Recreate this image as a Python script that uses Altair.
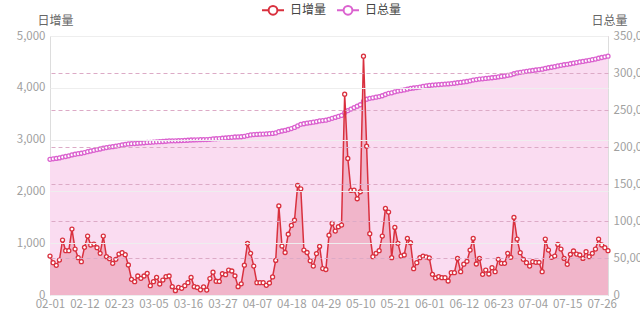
import altair as alt
import pandas as pd

# ---- data ----
daily = [752, 624, 572, 675, 1061, 855, 855, 1273, 887, 720,
         643, 920, 1138, 965, 984, 913, 804, 1138, 740, 701,
         611, 688, 791, 817, 778, 579, 302, 257, 367, 321,
         367, 418, 180, 257, 341, 212, 289, 354, 367, 161,
         84, 148, 129, 180, 238, 340, 161, 145, 100, 155,
         96, 318, 440, 265, 262, 410, 392, 482, 463, 370,
         161, 215, 575, 997, 804, 559, 238, 238, 238, 187,
         232, 348, 668, 1720, 945, 820, 1173, 1343, 1443, 2118,
         2050, 868, 820, 660, 559, 798, 938, 511, 492, 1154,
         1382, 1235, 1318, 1350, 3877, 2636, 2019, 2025, 1858, 1993,
         4610, 2874, 1183, 739, 804, 855, 1138, 1672, 1601, 720,
         1305, 997, 752, 772, 1093, 1010, 508, 624, 720, 750,
         735, 715, 399, 328, 354, 334, 334, 270, 431, 431,
         707, 450, 595, 650, 868, 1093, 598, 707, 399, 482,
         405, 527, 450, 688, 611, 611, 804, 727, 1498, 1080,
         817, 688, 624, 559, 643, 630, 630, 450, 1080, 868,
         727, 752, 977, 887, 707, 592, 784, 849, 791, 772,
         707, 836, 739, 804, 887, 1080, 965, 913, 855]

total = [183400, 184024, 184596, 185271, 186332, 187187, 188042, 189315, 190202, 190922,
         191565, 192485, 193623, 194588, 195572, 196485, 197289, 198427, 199167, 199868,
         200479, 201167, 201958, 202775, 203553, 204132, 204434, 204691, 205058, 205379,
         205746, 206164, 206344, 206601, 206942, 207154, 207443, 207797, 208164, 208325,
         208409, 208557, 208686, 208866, 209104, 209444, 209605, 209750, 209850, 210005,
         210101, 210419, 210859, 211124, 211386, 211796, 212188, 212670, 213133, 213503,
         213664, 213879, 214454, 215451, 216255, 216814, 217052, 217290, 217528, 217715,
         217947, 218295, 218963, 220683, 221628, 222448, 223621, 224964, 226407, 228525,
         230575, 231443, 232263, 232923, 233482, 234280, 235218, 235729, 236221, 237375,
         238757, 239992, 241310, 242660, 246537, 249173, 251192, 253217, 255075, 257068,
         261678, 264552, 265735, 266474, 267278, 268133, 269271, 270943, 272544, 273264,
         274569, 275566, 276318, 277090, 278183, 279193, 279701, 280325, 281045, 281795,
         282530, 283245, 283644, 283972, 284326, 284660, 284994, 285264, 285695, 286126,
         286833, 287283, 287878, 288528, 289396, 290489, 291087, 291794, 292193, 292675,
         293080, 293607, 294057, 294745, 295356, 295967, 296771, 297498, 298996, 300076,
         300893, 301581, 302205, 302764, 303407, 304037, 304667, 305117, 306197, 307065,
         307792, 308544, 309521, 310408, 311115, 311707, 312491, 313340, 314131, 314903,
         315610, 316446, 317185, 317989, 318876, 319956, 320921, 321834, 322689]

series_names = ["日增量", "日总量"]
dates = pd.date_range("2020-02-01", periods=len(daily), freq="D").strftime("%m-%d").tolist()
tick_idx = list(range(0, len(daily), 11))
tick_labels = [dates[k] for k in tick_idx]
left_ticks = [0, 1000, 2000, 3000, 4000, 5000]
right_ticks = [0, 50000, 100000, 150000, 200000, 250000, 300000, 350000]

# ---- styling ----
FONT = "Noto Sans CJK SC"
RED = "#d9303e"
MAG = "#db62cf"
FILL_TOTAL = "#fadcf1"
FILL_DAILY = "#f1b5ca"
LABEL = "#a0a0a0"

df = pd.DataFrame({"i": list(range(len(daily))), "date": dates,
                   "daily": daily, "total": total})

label_arr = "[" + ",".join("'" + t + "'" for t in tick_labels) + "]"
x_enc = alt.X(
    "i:Q",
    scale=alt.Scale(domain=[0, len(daily) - 1], nice=False, zero=False),
    axis=alt.Axis(values=tick_idx, labelExpr=label_arr + "[round(datum.value/11)]",
                  title=None, grid=False, ticks=False, domainColor="#e2d2dc",
                  labelColor=LABEL, labelFontSize=11.5, labelFont=FONT,
                  labelPadding=3, labelFlush=False, labelOverlap=False),
)

color_scale = alt.Scale(domain=series_names, range=[RED, MAG])
SYM = "M-1,0L-0.4,0M0.4,0L1,0M0.4,0A0.4,0.4,0,1,1,-0.4,0A0.4,0.4,0,1,1,0.4,0Z"
legend = alt.Legend(orient="none", legendX=211, legendY=-38, direction="horizontal",
                    title=None, symbolType=SYM, symbolSize=484, symbolStrokeWidth=2,
                    symbolFillColor="white", labelFontSize=12, labelColor="#444",
                    labelFont=FONT, columnPadding=6, labelOffset=5, padding=0)

y_total = alt.Y(
    "total:Q",
    scale=alt.Scale(domain=[0, 350000], nice=False),
    axis=alt.Axis(orient="right", values=right_ticks, format=",.0f", title="日总量",
                  titleAngle=0, titleX=1, titleY=-16, titleAlign="center",
                  titleBaseline="middle", titleColor="#666", titleFontWeight="normal",
                  titleFontSize=12, titleFont=FONT, grid=True, gridColor="#dcaac6",
                  gridDash=[4, 3], ticks=False, domain=False, labelColor=LABEL,
                  labelFontSize=11.5, labelFont=FONT, labelPadding=5, zindex=1),
)
y_daily = alt.Y(
    "daily:Q",
    scale=alt.Scale(domain=[0, 5000], nice=False),
    axis=alt.Axis(orient="left", values=left_ticks, format=",.0f", title="日增量",
                  titleAngle=0, titleX=5, titleY=-16, titleAlign="center",
                  titleBaseline="middle", titleColor="#666", titleFontWeight="normal",
                  titleFontSize=12, titleFont=FONT, grid=True, gridColor="#eeeeee",
                  ticks=False, domain=False, labelColor=LABEL,
                  labelFontSize=11.5, labelFont=FONT, labelPadding=5, zindex=1),
)

base = alt.Chart(df)

total_layer = alt.layer(
    base.mark_area(color=FILL_TOTAL).encode(x=x_enc, y=y_total),
    base.mark_line(strokeWidth=2).encode(
        x=x_enc, y=y_total,
        color=alt.Color("series:N", scale=color_scale, legend=legend)
    ).transform_calculate(series="'日总量'"),
    base.mark_point(filled=True, fill="white", stroke=MAG, strokeWidth=1.3,
                    size=16, opacity=1).encode(x=x_enc, y=y_total),
)

daily_layer = alt.layer(
    base.mark_area(color=FILL_DAILY).encode(x=x_enc, y=y_daily),
    base.mark_line(strokeWidth=1.5).encode(
        x=x_enc, y=y_daily,
        color=alt.Color("series:N", scale=color_scale, legend=legend)
    ).transform_calculate(series="'日增量'"),
    base.mark_point(filled=True, fill="white", stroke=RED, strokeWidth=1.3,
                    size=16, opacity=1).encode(x=x_enc, y=y_daily),
)

chart = alt.layer(total_layer, daily_layer).resolve_scale(y="independent").properties(
    width=558, height=259,
    autosize=alt.AutoSizeParams(type="none"),
    padding={"left": 50, "top": 36, "right": 32, "bottom": 16},
).configure_view(stroke=None).configure(background="white")

chart.save("out.html", embed_options={"renderer": "svg", "actions": False})
